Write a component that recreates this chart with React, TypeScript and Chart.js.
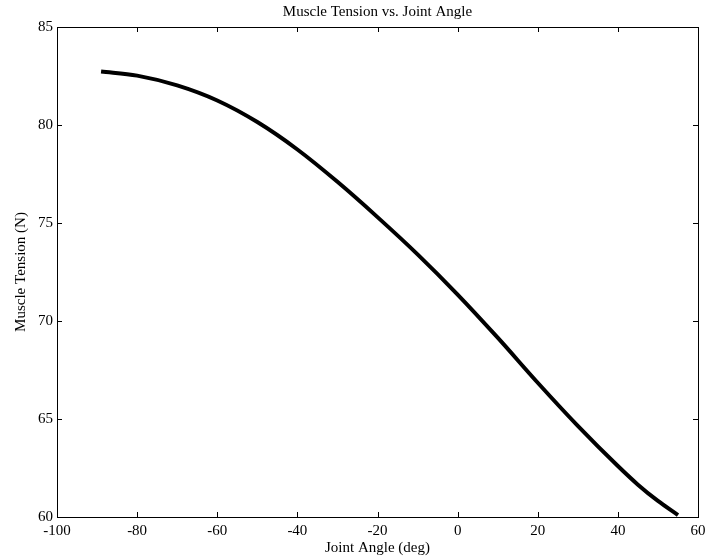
import React, { useEffect, useRef } from "react";
import { Chart, registerables } from "chart.js";

Chart.register(...registerables);

const chartTitle = "Muscle Tension vs. Joint Angle";
const xAxisTitle = "Joint Angle (deg)";
const yAxisTitle = "Muscle Tension (N)";

const jointAngle = [-89, -80, -70, -60, -50, -40, -30, -20, -10, 0, 10, 20, 30, 40, 45, 50, 55];
const muscleTension = [82.73, 82.52, 82.02, 81.25, 80.15, 78.75, 77.1, 75.3, 73.4, 71.35, 69.15, 66.85, 64.65, 62.6, 61.65, 60.82, 60.1];

const xTicks = [-100, -80, -60, -40, -20, 0, 20, 40, 60];
const yTicks = [60, 65, 70, 75, 80, 85];

const FONT = '"Liberation Serif", "Times New Roman", serif';

const frameAndTitle = {
  id: "frameAndTitle",
  afterDraw(chart: any) {
    const { ctx, chartArea } = chart;
    const { left, right, top, bottom } = chartArea;
    const xs = chart.scales.x;
    const ys = chart.scales.y;
    ctx.save();
    ctx.strokeStyle = "#000";
    ctx.lineWidth = 1;
    ctx.strokeRect(Math.round(left) + 0.5, Math.round(top) + 0.5, Math.round(right - left), Math.round(bottom - top));
    const tl = 5;
    ctx.beginPath();
    for (const v of xTicks) {
      const px = Math.round(xs.getPixelForValue(v)) + 0.5;
      ctx.moveTo(px, bottom);
      ctx.lineTo(px, bottom - tl);
      ctx.moveTo(px, top);
      ctx.lineTo(px, top + tl);
    }
    for (const v of yTicks) {
      const py = Math.round(ys.getPixelForValue(v)) + 0.5;
      ctx.moveTo(left, py);
      ctx.lineTo(left + tl, py);
      ctx.moveTo(right, py);
      ctx.lineTo(right - tl, py);
    }
    ctx.stroke();
    ctx.fillStyle = "#000";
    ctx.font = `15px ${FONT}`;
    ctx.textAlign = "center";
    ctx.textBaseline = "middle";
    ctx.fillText(chartTitle, (left + right) / 2, 12);
    ctx.restore();
  },
};

export default function App() {
  const ref = useRef<HTMLCanvasElement | null>(null);

  useEffect(() => {
    if (!ref.current) return;
    const chart = new Chart(ref.current, {
      type: "scatter",
      data: {
        datasets: [
          {
            data: jointAngle.map((x, i) => ({ x, y: muscleTension[i] })),
            showLine: true,
            borderColor: "#000",
            backgroundColor: "#000",
            borderWidth: 4,
            pointRadius: 0,
            cubicInterpolationMode: "monotone",
          } as any,
        ],
      },
      options: {
        animation: false,
        responsive: false,
        devicePixelRatio: 1,
        layout: { padding: { top: 27, right: 24, left: 0, bottom: 0 } },
        plugins: {
          legend: { display: false },
          tooltip: { enabled: false },
          title: { display: false },
        },
        scales: {
          x: {
            type: "linear",
            min: -100,
            max: 60,
            afterBuildTicks: (scale: any) => {
              scale.ticks = xTicks.map((v) => ({ value: v }));
            },
            afterFit: (scale: any) => {
              scale.height = 43;
            },
            grid: { display: false, drawTicks: false },
            border: { display: false },
            ticks: {
              color: "#000",
              font: { family: FONT, size: 15 },
              padding: 5,
              maxRotation: 0,
              autoSkip: false,
            },
            title: {
              display: true,
              text: xAxisTitle,
              color: "#000",
              font: { family: FONT, size: 15 },
              padding: { top: 0, bottom: 3 },
            },
          },
          y: {
            type: "linear",
            min: 60,
            max: 85,
            afterBuildTicks: (scale: any) => {
              scale.ticks = yTicks.map((v) => ({ value: v }));
            },
            afterFit: (scale: any) => {
              scale.width = 57;
            },
            grid: { display: false, drawTicks: false },
            border: { display: false },
            ticks: {
              color: "#000",
              font: { family: FONT, size: 15 },
              padding: 4,
              autoSkip: false,
            },
            title: {
              display: true,
              text: yAxisTitle,
              color: "#000",
              font: { family: FONT, size: 15 },
              padding: { top: 12, bottom: 0 },
            },
          },
        },
      } as any,
      plugins: [frameAndTitle],
    });
    return () => chart.destroy();
  }, []);

  return (
    <div style={{ position: "absolute", left: 0, top: 0, width: 722, height: 560, background: "#fff" }}>
      <canvas ref={ref} width={722} height={560} style={{ width: 722, height: 560 }} />
    </div>
  );
}
